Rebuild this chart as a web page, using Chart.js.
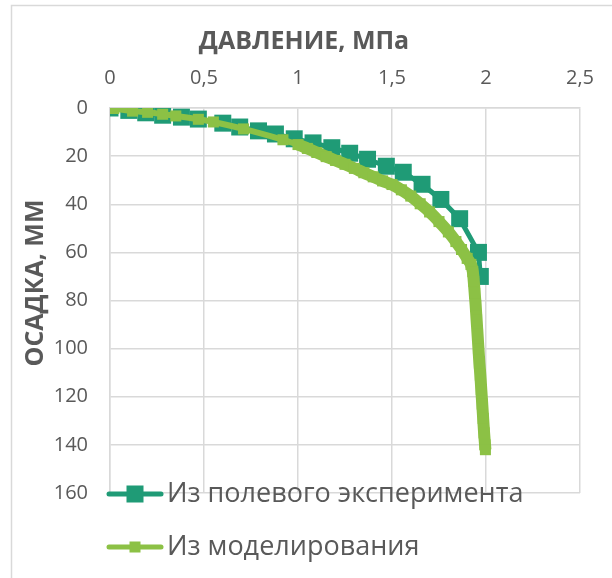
<!DOCTYPE html>
<html>
<head>
<meta charset="utf-8">
<title>Осадка от давления</title>
<style>
  html, body { margin: 0; padding: 0; background: #fff; }
  #wrap { width: 612px; height: 578px; }
</style>
</head>
<body>
<div id="wrap"><canvas id="chart" width="612" height="578"></canvas></div>
<script src="https://cdn.jsdelivr.net/npm/chart.js"></script>
<script>
// labels
const xTitle = 'ДАВЛЕНИЕ, МПа';
const yTitle = 'ОСАДКА, ММ';
const seriesNames = ['Из полевого эксперимента', 'Из моделирования'];
const xTickLabels = ['0', '0,5', '1', '1,5', '2', '2,5'];

// field test: pressure (MPa) / settlement (mm)
const fieldP = [0, 0.1, 0.19, 0.28, 0.38, 0.47, 0.6, 0.69, 0.79, 0.88, 0.98, 1.08, 1.18, 1.275, 1.37, 1.47, 1.56, 1.66, 1.76, 1.86, 1.96, 1.97];
const fieldS = [0, 1, 2, 3, 3.8, 4.6, 6.3, 7.9, 9.5, 10.8, 12.8, 14.5, 16.5, 18.8, 21.3, 24.2, 26.7, 31.7, 38, 46, 60, 70];

// model
const modelP = [0, 0.02, 0.12, 0.2, 0.28, 0.35, 0.47, 0.55, 0.71, 0.92, 1.0, 1.05, 1.1, 1.15, 1.2, 1.25, 1.3, 1.35, 1.4, 1.45, 1.5,
  1.55, 1.6, 1.65, 1.7, 1.75, 1.8, 1.84, 1.87, 1.9, 1.92, 1.93, 1.935, 1.94, 1.945, 1.95, 1.955, 1.96, 1.965, 1.97, 1.975,
  1.98, 1.985, 1.99, 1.995, 1.997];
const modelS = [0, 0.2, 1.3, 1.8, 2.6, 3.3, 4.7, 5.8, 8.7, 13.2, 15.2, 16.8, 18.5, 20.2, 21.8, 23.4, 25.1, 26.9, 28.6, 30.3, 31.8,
  34, 36.6, 39.8, 43.2, 47.2, 51.5, 55.5, 58.8, 62.5, 65, 68, 72, 77, 82, 88, 94, 100, 106, 111, 117,
  123, 129, 135, 140, 142];

const darkGreen = '#1F9B76';
const lightGreen = '#8CC145';
const textColor = '#595959';
const gridColor = '#d9d9d9';
const fontFamily = "'Open Sans', 'Noto Sans', sans-serif";

function toPoints(px, py) {
  return px.map((v, i) => ({ x: v, y: py[i] }));
}

// frame, axis titles and legend drawn like the Excel original
const decor = {
  id: 'decor',
  beforeDraw(chart) {
    const ctx = chart.ctx;
    ctx.save();
    ctx.fillStyle = '#fff';
    ctx.fillRect(0, 0, chart.width, chart.height);
    ctx.strokeStyle = gridColor;
    ctx.lineWidth = 1.5;
    ctx.strokeRect(11.5, 5.5, 800, 800);
    ctx.restore();
  },
  afterDraw(chart) {
    const ctx = chart.ctx;
    ctx.save();
    ctx.fillStyle = textColor;
    ctx.font = 'bold 25px ' + fontFamily;
    ctx.textAlign = 'center';
    ctx.textBaseline = 'middle';
    ctx.fillText(xTitle, 304, 42);
    ctx.translate(36, 283);
    ctx.rotate(-Math.PI / 2);
    ctx.fillText(yTitle, 0, 0);
    ctx.restore();

    // legend
    const rows = [494, 547];
    chart.data.datasets.forEach((ds, i) => {
      const y = rows[i];
      ctx.save();
      ctx.strokeStyle = ds.borderColor;
      ctx.lineWidth = 5;
      ctx.lineCap = 'round';
      ctx.beginPath();
      ctx.moveTo(109, y);
      ctx.lineTo(161, y);
      ctx.stroke();
      const sq = i === 0 ? 17 : 11;
      ctx.fillStyle = ds.borderColor;
      ctx.fillRect(135 - sq / 2, y - sq / 2, sq, sq);
      ctx.fillStyle = textColor;
      ctx.font = '27px ' + fontFamily;
      ctx.textAlign = 'left';
      ctx.textBaseline = 'middle';
      ctx.fillText(ds.label, 167, y);
      ctx.restore();
    });
  }
};

new Chart(document.getElementById('chart'), {
  type: 'line',
  data: {
    datasets: [
      {
        label: seriesNames[0],
        data: toPoints(fieldP, fieldS),
        borderColor: darkGreen,
        backgroundColor: darkGreen,
        borderWidth: 5,
        pointStyle: 'rect',
        pointRadius: 12,
        pointBorderWidth: 0,
        tension: 0,
        order: 2
      },
      {
        label: seriesNames[1],
        data: toPoints(modelP, modelS),
        borderColor: lightGreen,
        backgroundColor: lightGreen,
        borderWidth: 6,
        borderJoinStyle: 'round',
        segment: {
          // the dense part of the model curve reads as one thick band
          borderWidth: (c) => (c.p0.parsed.x >= 0.99 ? 12 : 6)
        },
        pointStyle: 'rect',
        pointRadius: 7.8,
        pointBorderWidth: 0,
        tension: 0.3,
        order: 1
      }
    ]
  },
  options: {
    responsive: false,
    devicePixelRatio: 1,
    animation: false,
    events: [],
    layout: { padding: { left: 0, top: 0, right: 30, bottom: 85 } },
    plugins: {
      legend: { display: false },
      tooltip: { enabled: false }
    },
    scales: {
      x: {
        type: 'linear',
        position: 'top',
        min: 0,
        max: 2.5,
        afterFit(scale) { scale.height = 108; },
        ticks: {
          stepSize: 0.5,
          padding: 18,
          color: textColor,
          font: { family: fontFamily, size: 20 },
          callback: (v) => xTickLabels[Math.round(v / 0.5)]
        },
        grid: { color: gridColor, lineWidth: 1.5, drawTicks: false },
        border: { color: gridColor, width: 1.5 }
      },
      y: {
        type: 'linear',
        reverse: true,
        min: 0,
        max: 160,
        afterFit(scale) { scale.width = 110; },
        ticks: {
          stepSize: 20,
          padding: 22,
          color: textColor,
          font: { family: fontFamily, size: 20 }
        },
        grid: { color: gridColor, lineWidth: 1.5, drawTicks: false },
        border: { color: gridColor, width: 1.5 }
      }
    }
  },
  plugins: [decor]
});
</script>
</body>
</html>
